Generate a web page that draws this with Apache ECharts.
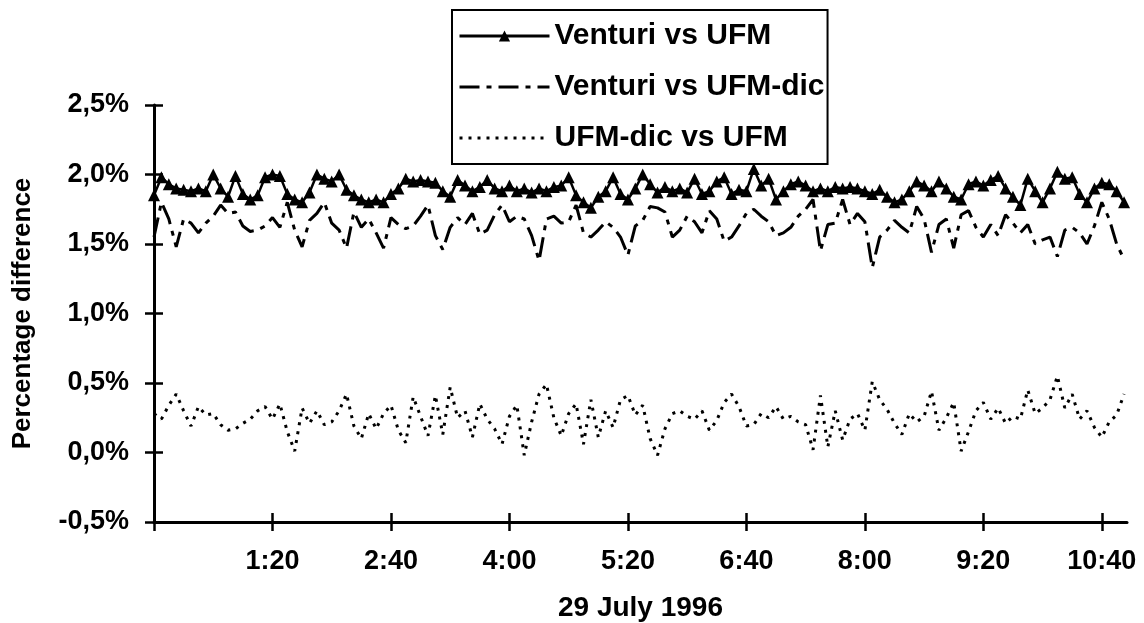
<!DOCTYPE html>
<html>
<head>
<meta charset="utf-8">
<script src="https://cdn.jsdelivr.net/npm/echarts@6/dist/echarts.min.js"></script>
<style>
  html, body { margin: 0; padding: 0; background: #fff; }
  #chart { width: 1144px; height: 623px; }
</style>
</head>
<body>
<div id="chart"></div>
<script>
// Sampling interval of the readings, minutes from start of record
const sampleStepMinutes = 5;

// Venturi vs UFM (%), one row per hour
const venturiVsUfm = [
  1.85,1.98,1.93,1.90,1.89,1.88,1.90,1.88,2.00,1.90,1.84,1.99,
  1.86,1.82,1.85,1.98,2.00,1.99,1.86,1.82,1.80,1.87,2.00,1.97,
  1.95,2.00,1.89,1.85,1.82,1.80,1.82,1.80,1.86,1.90,1.97,1.95,
  1.96,1.95,1.94,1.88,1.84,1.96,1.92,1.88,1.91,1.96,1.90,1.88,
  1.92,1.88,1.90,1.87,1.90,1.88,1.91,1.92,1.98,1.85,1.80,1.76,
  1.84,1.88,1.98,1.86,1.82,1.90,2.00,1.93,1.87,1.91,1.88,1.90,
  1.87,1.97,1.86,1.88,1.95,1.98,1.86,1.89,1.88,2.04,1.92,1.97,
  1.82,1.88,1.93,1.95,1.92,1.88,1.90,1.88,1.91,1.90,1.91,1.90,
  1.88,1.86,1.89,1.84,1.80,1.82,1.88,1.95,1.92,1.88,1.95,1.90,
  1.84,1.82,1.93,1.95,1.92,1.96,1.99,1.90,1.84,1.78,1.97,1.88,
  1.80,1.90,2.02,1.97,1.98,1.86,1.80,1.90,1.94,1.93,1.88,1.80
];

// Venturi vs UFM-dic (%)
const venturiVsUfmDic = [
  1.55,1.80,1.68,1.48,1.68,1.65,1.58,1.65,1.70,1.78,1.72,1.73,
  1.63,1.59,1.60,1.63,1.69,1.62,1.80,1.60,1.48,1.67,1.72,1.80,
  1.65,1.60,1.47,1.73,1.62,1.68,1.58,1.47,1.69,1.64,1.61,1.63,
  1.70,1.78,1.56,1.46,1.62,1.69,1.64,1.72,1.57,1.60,1.71,1.78,
  1.66,1.70,1.68,1.56,1.38,1.68,1.70,1.65,1.66,1.78,1.58,1.55,
  1.60,1.66,1.62,1.55,1.42,1.63,1.67,1.77,1.76,1.73,1.55,1.60,
  1.70,1.66,1.58,1.74,1.68,1.52,1.55,1.63,1.72,1.75,1.70,1.66,
  1.56,1.58,1.62,1.70,1.75,1.82,1.45,1.64,1.65,1.82,1.64,1.72,
  1.66,1.33,1.55,1.60,1.67,1.62,1.58,1.77,1.68,1.44,1.64,1.68,
  1.47,1.71,1.74,1.62,1.55,1.64,1.56,1.71,1.65,1.58,1.64,1.50,
  1.53,1.55,1.41,1.60,1.62,1.58,1.50,1.63,1.80,1.68,1.50,1.39
];

// UFM-dic vs UFM (%)
const ufmDicVsUfm = [
  0.28,0.24,0.34,0.42,0.30,0.19,0.33,0.27,0.28,0.20,0.16,0.17,
  0.21,0.24,0.30,0.33,0.24,0.35,0.15,0.01,0.32,0.21,0.30,0.20,
  0.22,0.30,0.42,0.19,0.10,0.28,0.17,0.28,0.34,0.16,0.07,0.40,
  0.26,0.12,0.41,0.13,0.47,0.25,0.30,0.11,0.35,0.24,0.17,0.06,
  0.26,0.34,-0.02,0.22,0.42,0.49,0.25,0.12,0.28,0.35,0.06,0.38,
  0.11,0.30,0.18,0.38,0.41,0.27,0.34,0.10,-0.02,0.17,0.28,0.30,
  0.26,0.24,0.30,0.16,0.23,0.36,0.42,0.33,0.19,0.20,0.28,0.25,
  0.33,0.24,0.26,0.22,0.20,0.02,0.41,0.04,0.30,0.09,0.24,0.28,
  0.16,0.51,0.38,0.31,0.21,0.13,0.28,0.22,0.26,0.44,0.16,0.25,
  0.36,0.01,0.15,0.30,0.36,0.24,0.32,0.21,0.26,0.24,0.45,0.28,
  0.32,0.38,0.55,0.32,0.42,0.24,0.30,0.18,0.11,0.22,0.27,0.42
];

const seriesNames = ['Venturi vs UFM', 'Venturi vs UFM-dic', 'UFM-dic vs UFM'];

// X axis ticks (minutes) and their labels
const xTickMinutes = [0, 80, 160, 240, 320, 400, 480, 560, 640];
const xTickLabels  = ['', '1:20', '2:40', '4:00', '5:20', '6:40', '8:00', '9:20', '10:40'];
const xMaxMinutes = 657;

// Y axis ticks (%)
const yMin = -0.5, yMax = 2.5, yStep = 0.5;

const xAxisTitle = '29 July 1996';
const yAxisTitle = 'Percentage difference';

function pairs(values) {
  return values.map((v, i) => [i * sampleStepMinutes, v]);
}

const FONT = 'Liberation Sans';
const labelStyle = { color: '#000', fontFamily: FONT, fontWeight: 'bold' };
const tickLine = { color: '#000', width: 2.5 };
const hiddenLine = { show: true, onZero: false, lineStyle: { color: 'rgba(0,0,0,0)', width: 0.01 } };

const chart = echarts.init(document.getElementById('chart'), null, { renderer: 'canvas' });

const baseX = {
  type: 'value', min: 0, max: xMaxMinutes, position: 'bottom', gridIndex: 0,
  splitLine: { show: false }
};
const baseY = {
  type: 'value', min: yMin, max: yMax, interval: yStep, position: 'left', gridIndex: 0,
  splitLine: { show: false }
};

chart.setOption({
  backgroundColor: '#fff',
  animation: false,
  grid: { left: 154, right: 17, top: 105, bottom: 101, containLabel: false, outerBoundsMode: 'none' },
  legend: {
    orient: 'vertical',
    left: 452, top: 10,
    padding: [11, 3, 11, 6],
    itemGap: 21,
    itemWidth: 90, itemHeight: 14,
    borderColor: '#000', borderWidth: 2,
    backgroundColor: '#fff',
    lineStyle: { width: 3 },
    textStyle: Object.assign({ fontSize: 30 }, labelStyle),
    data: [
      { name: seriesNames[0] },
      { name: seriesNames[1], itemStyle: { color: 'rgba(0,0,0,0)', borderColor: 'rgba(0,0,0,0)', borderWidth: 0 } },
      { name: seriesNames[2], itemStyle: { color: 'rgba(0,0,0,0)', borderColor: 'rgba(0,0,0,0)', borderWidth: 0 } }
    ]
  },
  xAxis: [
    Object.assign({}, baseX, {
      name: xAxisTitle, nameLocation: 'middle', nameGap: 72,
      nameTextStyle: Object.assign({ fontSize: 28 }, labelStyle),
      axisLine: { show: true, onZero: false, lineStyle: { color: '#000', width: 3 } },
      axisTick: { show: true, inside: false, length: 9, lineStyle: tickLine, customValues: xTickMinutes },
      axisLabel: Object.assign({
        fontSize: 27, margin: 26, customValues: xTickMinutes.slice(1),
        formatter: function (v) { const i = xTickMinutes.indexOf(v); return i >= 0 ? xTickLabels[i] : ''; }
      }, labelStyle)
    }),
    Object.assign({}, baseX, {
      axisLine: hiddenLine,
      axisTick: { show: true, inside: true, length: 9, lineStyle: tickLine, customValues: xTickMinutes },
      axisLabel: { show: false }
    })
  ],
  yAxis: [
    Object.assign({}, baseY, {
      name: yAxisTitle, nameLocation: 'middle', nameGap: 118, nameRotate: 90,
      nameTextStyle: Object.assign({ fontSize: 26 }, labelStyle),
      axisLine: { show: true, onZero: false, lineStyle: { color: '#000', width: 3 } },
      axisTick: { show: true, inside: false, length: 9, lineStyle: tickLine },
      axisLabel: Object.assign({
        fontSize: 27, margin: 25,
        formatter: function (v) { return v.toFixed(1).replace('.', ',') + '%'; }
      }, labelStyle)
    }),
    Object.assign({}, baseY, {
      axisLine: hiddenLine,
      axisTick: { show: true, inside: true, length: 9, lineStyle: tickLine },
      axisLabel: { show: false }
    })
  ],
  series: [
    {
      name: seriesNames[0], type: 'line', data: pairs(venturiVsUfm),
      xAxisIndex: 0, yAxisIndex: 0,
      symbol: 'triangle', symbolSize: 12, showSymbol: true,
      itemStyle: { color: '#000' },
      lineStyle: { color: '#000', width: 2.5, type: 'solid' },
      z: 3
    },
    {
      name: seriesNames[1], type: 'line', data: pairs(venturiVsUfmDic),
      xAxisIndex: 0, yAxisIndex: 0,
      symbol: 'none', showSymbol: false,
      itemStyle: { color: '#000' },
      lineStyle: { color: '#000', width: 3, type: [20, 7, 5, 7] },
      z: 2
    },
    {
      name: seriesNames[2], type: 'line', data: pairs(ufmDicVsUfm),
      xAxisIndex: 0, yAxisIndex: 0,
      symbol: 'none', showSymbol: false,
      itemStyle: { color: '#000' },
      lineStyle: { color: '#000', width: 3, type: [3, 6] },
      z: 2
    }
  ]
});
</script>
</body>
</html>
